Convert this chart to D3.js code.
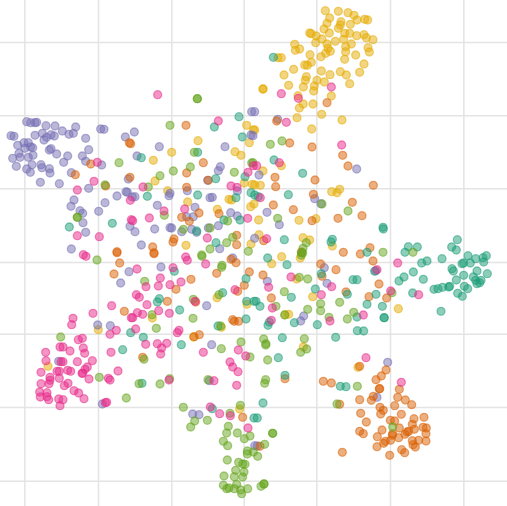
<!DOCTYPE html>
<html>
<head>
<meta charset="utf-8">
<script src="https://cdn.jsdelivr.net/npm/d3@7"></script>
<style>
    html, body { margin: 0; padding: 0; background: #fff; }
    svg { display: block; }
    .grid line { stroke: #e4e4e4; stroke-width: 1.5; }
    .grid path { display: none; }
</style>
</head>
<body>
<div id="chart"></div>
<script>
// Embedding coordinates, one list per class
const gridX = [73, 294, 514, 731, 949, 1170, 1390];
const gridY = [126, 346, 565, 786, 1001, 1221, 1442];

const purple = [[80,365],[92,368],[105,368],[110,367],[138,377],[165,378],[187,393],[227,381],[220,400],[207,403],[163,408],[153,404],[140,412],[132,420],[127,400],[105,406],[33,407],[42,409],[53,436],[72,428],[85,428],[92,441],[98,443],[75,445],[60,472],[38,475],[57,460],[85,472],[99,466],[49,499],[96,494],[80,507],[91,517],[123,494],[126,503],[148,506],[150,519],[121,547],[178,551],[148,450],[153,446],[170,462],[203,468],[191,487],[247,468],[257,484],[266,449],[257,415],[302,387],[312,388],[305,495],[376,411],[403,396],[385,537],[411,468],[478,440],[214,518],[266,565],[222,600],[213,619],[240,632],[248,640],[249,668],[257,697],[296,634],[315,608],[351,588],[378,575],[382,577],[397,591],[405,590],[472,616],[390,679],[405,695],[464,687],[510,683],[515,684],[545,695],[575,688],[590,697],[625,684],[655,677],[585,622],[560,650],[580,650],[692,638],[712,648],[510,580],[507,587],[562,572],[630,593],[637,592],[623,541],[655,512],[661,500],[675,440],[755,335],[753,405],[712,573],[424,735],[214,747],[659,746],
    [764,335],[833,358],[759,407],[1070,507],[777,525],[944,596],[963,611],[801,637],[838,674],[764,715],
    [387,815],[483,801],[362,849],[620,917],[293,975],[331,977],[635,1034],[176,1084],[578,1242],[597,1244],[307,1212],[628,1142],[698,774],
    [973,803],[802,844],[981,850],[911,948],[902,963],[1127,812],[1163,1087],[1131,1192],[764,1337],[772,1338]];

const orange = [[558,376],[392,431],[388,428],[272,492],[226,524],[390,532],[317,558],[610,488],[560,519],[560,562],[545,652],[597,639],[568,664],[657,641],[710,706],[710,734],[522,717],[519,726],[458,741],[351,755],[462,758],[625,541],
    [981,308],[830,363],[869,429],[936,441],[1028,466],[1044,498],[825,532],[827,560],[945,540],[1120,556],[940,583],[820,615],[880,629],[1057,607],[1014,655],[1086,647],[936,662],[791,722],[1030,757],[1110,743],[1081,762],
    [359,789],[342,822],[528,868],[502,904],[373,934],[573,838],[650,820],[708,788],[693,778],[748,816],[733,856],[713,874],[587,906],[698,959],[703,964],[716,964],[598,1004],[582,1010],[428,1072],[728,1252],[462,761],[351,758],
    [962,792],[1008,809],[966,829],[789,825],[814,894],[1107,890],[1137,852],[1160,894],[1038,876],[1119,783],[855,1136],[970,1144],[994,1149],[1079,1099],[1158,1110],[1144,1128],[1128,1139],[1138,1166],[1139,1166],[1198,1168],[1193,1192],[1216,1200],[1235,1214],[1184,1217],[1079,1199],[1114,1201],[1120,1189],[1140,1222],[1150,1231],[1142,1242],[1082,1240],[1099,1266],[1204,1243],[1171,1261],[1184,1263],[1242,1256],[1272,1252],[1237,1273],[1243,1288],[1269,1282],[1279,1284],[1278,1301],[1079,1294],[1090,1301],[1146,1290],[1132,1310],[1178,1301],[1177,1306],[1196,1313],[1215,1303],[1226,1294],[1221,1296],[1198,1284],[1172,1321],[1156,1324],[1151,1330],[1131,1340],[1237,1322],[1256,1321],[1278,1323],[1239,1334],[1246,1341],[1205,1349],[1214,1358],[1169,1366],[1027,1357],[1019,1213],[780,1339],[904,756]];

const teal = [[717,350],[643,381],[727,411],[424,473],[593,457],[647,536],[735,530],[593,585],[442,589],[753,578],[708,593],[208,681],[337,670],[590,693],[672,660],[720,660],[648,728],
    [820,172],[822,480],[908,520],[865,584],[764,585],[775,590],[853,719],[997,718],[993,726],[1149,682],[1150,687],[1225,740],[1252,741],[1215,757],[1355,741],[1372,719],[1369,750],[1404,767],[1459,767],[1101,757],
    [523,814],[478,896],[472,906],[539,930],[392,998],[430,1012],[544,1034],[368,1049],[654,978],[738,957],[738,836],[668,878],[740,904],[762,904],[426,1150],[637,1226],[762,1254],
    [803,774],[861,794],[768,904],[780,919],[874,892],[946,867],[964,821],[1059,839],[1071,839],[1042,883],[1128,883],[1101,913],[1147,919],[1152,953],[1153,953],[1071,951],[883,968],[804,976],[808,966],[952,974],[1072,992],[1091,993],[1007,1012],[847,1013],[835,1073],[855,1126],[789,1209],[772,1254],[1021,1159],[1038,1160],[1124,814],[1197,843],[1212,831],[1240,816],[1270,838],[1265,789],[1281,783],[1326,776],[1238,879],[1302,868],[1314,866],[1328,862],[1346,861],[1349,859],[1356,806],[1360,813],[1386,791],[1391,789],[1411,789],[1427,776],[1449,773],[1451,786],[1431,813],[1462,821],[1391,826],[1420,831],[1427,841],[1369,840],[1443,841],[1431,851],[1439,848],[1393,859],[1403,866],[1373,880],[1387,889],[1323,934]];

const pink = [[473,284],[655,363],[292,487],[282,544],[232,570],[429,561],[391,601],[394,659],[448,654],[492,633],[554,627],[232,707],[298,710],[622,714],[743,655],[693,558],[711,562],[744,517],[398,662],[760,497],
    [844,281],[895,295],[994,261],[859,367],[1025,435],[838,488],[770,497],[781,593],[800,716],
    [250,764],[258,769],[411,807],[519,803],[481,834],[438,860],[475,858],[510,854],[543,846],[557,771],[562,781],[617,792],[409,884],[418,892],[441,914],[476,932],[508,940],[335,917],[394,953],[398,953],[412,938],[428,943],[279,940],[219,955],[215,974],[349,991],[330,1003],[407,987],[537,991],[532,998],[235,1019],[247,1015],[437,1033],[472,1031],[500,1030],[485,1044],[482,1062],[333,1057],[610,1057],[180,1041],[189,1041],[210,1053],[250,1044],[254,1060],[137,1057],[138,1082],[183,1085],[189,1085],[232,1085],[277,1082],[262,1101],[255,1108],[248,1120],[246,1120],[354,1113],[123,1117],[171,1114],[178,1114],[203,1111],[212,1114],[178,1135],[150,1132],[150,1141],[147,1151],[123,1151],[267,1137],[204,1150],[193,1157],[222,1172],[236,1179],[252,1196],[119,1176],[141,1178],[121,1191],[141,1190],[146,1199],[176,1197],[189,1199],[180,1217],[325,1135],[330,1140],[507,1140],[642,1142],[710,1156],[715,1050],[737,1068],[690,1086],[698,1101],[714,1115],[705,869],[631,1221],[659,1241],[691,1247],[744,1284],[320,1207],[316,1208],[585,904],
    [1193,789],[1131,809],[873,831],[806,862],[964,884],[995,860],[1172,873],[1256,884],[817,924],[990,963],[814,961],[1090,945],[1098,1073],[1204,1147]];

const lime = [[592,296],[592,296],[510,376],[357,488],[445,561],[480,527],[520,513],[571,501],[583,457],[703,517],[755,489],[493,646],[683,663],[698,712],[630,747],[680,728],[745,754],[550,688],[630,684],[232,652],[232,652],[315,555],[605,765],
    [811,433],[846,423],[1044,633],[833,655],[966,612],[759,488],[919,728],[909,745],[905,758],[1149,757],[1239,757],
    [291,780],[434,844],[580,898],[579,955],[469,985],[664,1046],[723,1026],[750,1071],[182,1011],[298,1132],[417,1151],[480,1152],[509,1136],[624,1139],[379,1194],[432,1078],[550,1222],[584,1263],[572,1281],[622,1261],[690,1240],[721,1216],[685,1279],[680,1299],[712,1299],[733,1316],[750,1308],[670,1324],[683,1337],[742,1353],[742,1362],[682,1380],[716,1387],[728,1392],[735,1393],[707,1411],[732,1416],[672,1428],[703,1430],[728,1431],[670,1456],[680,1466],[687,1464],[710,1453],[703,1466],[722,1470],[743,1466],[725,1481],[606,769],[666,796],[665,802],[456,944],[657,884],[760,1356],[662,978],
    [898,832],[923,837],[853,875],[828,919],[962,911],[962,932],[923,928],[854,945],[1019,907],[1061,937],[1042,957],[987,952],[1176,878],[791,1017],[798,1031],[797,1035],[913,1016],[920,1047],[902,1057],[803,1080],[797,1139],[794,1150],[1072,1159],[1011,1212],[1178,1281],[818,1300],[818,1300],[794,1333],[773,1369],[792,1452],[792,1452],[783,1459],[908,759],[904,766]];

const yellow = [[740,376],[760,390],[594,422],[748,428],[705,455],[723,466],[515,457],[460,481],[465,543],[503,572],[563,606],[687,598],[695,600],[733,549],[757,553],[762,612],[752,620],[652,628],[558,736],[753,732],
    [976,32],[1015,34],[1044,38],[1062,46],[989,54],[1071,60],[1094,58],[1103,60],[981,70],[1023,65],[1021,75],[1051,73],[972,87],[1015,85],[988,99],[929,99],[934,101],[949,108],[966,117],[1034,100],[1049,100],[1070,107],[1092,104],[1099,113],[1119,119],[1031,118],[1054,132],[1006,124],[981,132],[984,145],[991,154],[977,160],[963,170],[1037,140],[1037,155],[1034,178],[884,133],[899,147],[886,151],[947,128],[930,164],[1104,143],[1108,156],[1067,165],[1092,192],[1079,217],[1021,215],[1039,225],[1049,251],[964,213],[990,224],[934,187],[914,195],[922,196],[881,208],[852,225],[919,230],[916,241],[951,241],[973,246],[866,256],[910,261],[943,258],[941,273],[789,267],[789,267],[894,287],[994,288],[910,312],[898,324],[939,312],[965,343],[891,353],[1026,360],[935,387],[834,173],[844,173],[764,390],[844,497],[789,513],[781,556],[764,555],[1019,568],[1011,578],[995,575],[897,661],[948,656],[776,660],[777,704],[909,713],[929,720],[997,738],[845,770],
    [295,989],[144,1099],[457,954],[651,893],[741,913],[664,982],[719,1227],[581,1011],
    [815,791],[901,774],[890,837],[938,890],[866,943],[1195,926],[1074,1102],[910,1041],[855,944]];

// Draw order, bottom to top
const series = [
    {points: yellow, color: "#e6ab02"},
    {points: purple, color: "#7570b3"},
    {points: orange, color: "#d95f02"},
    {points: teal, color: "#1b9e77"},
    {points: lime, color: "#66a61e"},
    {points: pink, color: "#e7298a"}
];

const width = 507, height = 506;

const svg = d3.select("#chart")
    .append("svg")
    .attr("width", width)
    .attr("height", height);

const x = d3.scaleLinear().domain([0, 1521]).range([0, width]);
const y = d3.scaleLinear().domain([0, 1518]).range([0, height]);

// Gridlines only, no tick labels
svg.append("g")
    .attr("class", "grid")
    .attr("transform", `translate(0,${height})`)
    .call(d3.axisBottom(x).tickValues(gridX).tickSize(-height).tickFormat(""));

svg.append("g")
    .attr("class", "grid")
    .call(d3.axisRight(y).tickValues(gridY).tickSize(width).tickFormat(""));

series.forEach(s => {
    svg.append("g")
        .selectAll("circle")
        .data(s.points)
        .join("circle")
        .attr("cx", d => x(d[0]))
        .attr("cy", d => y(d[1]))
        .attr("r", 4)
        .attr("fill", s.color)
        .attr("fill-opacity", 0.5)
        .attr("stroke", s.color)
        .attr("stroke-opacity", 0.5)
        .attr("stroke-width", 1.3);
});
</script>
</body>
</html>
